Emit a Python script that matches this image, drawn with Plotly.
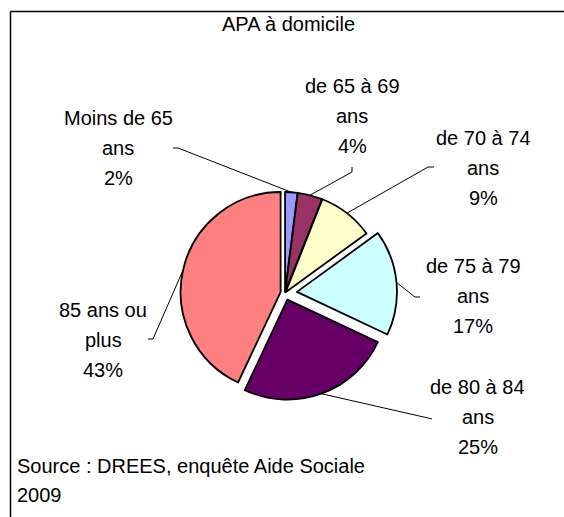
import math
import plotly.graph_objects as go

W, H = 564, 517

# ---- data ----
categories = ["Moins de 65 ans", "de 65 à 69 ans", "de 70 à 74 ans",
              "de 75 à 79 ans", "de 80 à 84 ans", "85 ans ou plus"]
values = [2, 4, 9, 17, 25, 43]
label_lines = [["Moins de 65", "ans"], ["de 65 à 69", "ans"], ["de 70 à 74", "ans"],
               ["de 75 à 79", "ans"], ["de 80 à 84", "ans"], ["85 ans ou", "plus"]]
title_text = "APA à domicile"
source_lines = ["Source : DREES, enquête Aide Sociale", "2009"]

# ---- styling / layout ----
colors = ["#9999FF", "#993366", "#FFFFCC", "#CCFFFF", "#660066", "#FF8080"]
pulls = [0.01, 0.01, 0.01, 0.12, 0.07, 0.045]
CX, CY, R = 285, 293, 100          # pie centre / radius in pixels
FONT = "Liberation Sans, Arial, sans-serif"
FS = 20
LINE_H = 30
label_pos = [(118, 118), (352, 86), (483, 138), (473, 266), (478, 387), (103, 310)]
leader_start = [(173, 148), (352, 167), (434, 167), (420, 297), (432, 419), (148, 339)]
leader_elbow = [(178, 148), (352, 172), (428, 167), (415, 297), (428, 418), (153, 339)]


def px(x):
    return x / W


def py(y):
    return 1 - y / H


maxpull = max(pulls)
half = R * (1 + maxpull)

fig = go.Figure(go.Pie(
    labels=categories, values=values, sort=False, direction="clockwise", rotation=0,
    marker=dict(colors=colors, line=dict(color="black", width=1.8)),
    pull=pulls, textinfo="none", hoverinfo="label+percent", showlegend=False,
    domain=dict(x=[px(CX - half), px(CX + half)], y=[py(CY + half), py(CY - half)]),
))

annotations = []
shapes = []

total = sum(values)
cum = 0
for i, v in enumerate(values):
    pct = round(100 * v / total)
    lines = label_lines[i] + [f"{pct}%"]
    lx, ly = label_pos[i]
    for k, t in enumerate(lines):
        annotations.append(dict(x=px(lx), y=py(ly + k * LINE_H), xref="paper", yref="paper",
                                text=t, showarrow=False, xanchor="center", yanchor="middle",
                                font=dict(family=FONT, size=FS, color="black")))
    mid = (cum + v / 2) / total * 2 * math.pi
    rr = R * (1 + pulls[i])
    ex, ey = CX + rr * math.sin(mid), CY - rr * math.cos(mid)
    sx, sy = leader_start[i]
    bx, by = leader_elbow[i]
    shapes.append(dict(type="path", xref="paper", yref="paper",
                       path=f"M {px(sx)} {py(sy)} L {px(bx)} {py(by)} L {px(ex)} {py(ey)}",
                       line=dict(color="black", width=1)))
    cum += v

annotations.append(dict(x=px(288), y=py(24), xref="paper", yref="paper", text=title_text,
                        showarrow=False, xanchor="center", yanchor="middle",
                        font=dict(family=FONT, size=FS, color="black")))
for k, t in enumerate(source_lines):
    annotations.append(dict(x=px(15), y=py(466 + k * 29), xref="paper", yref="paper", text=t,
                            showarrow=False, xanchor="left", yanchor="middle",
                            font=dict(family=FONT, size=FS, color="black")))

# frame (left and top edges of the chart area)
shapes.append(dict(type="line", xref="paper", yref="paper", x0=px(10.5), y0=py(11.5), x1=px(10.5), y1=0,
                   line=dict(color="black", width=1.5)))
shapes.append(dict(type="line", xref="paper", yref="paper", x0=px(10.5), y0=py(11.5), x1=1, y1=py(11.5),
                   line=dict(color="black", width=1.5)))

fig.update_layout(width=W, height=H, margin=dict(l=0, r=0, t=0, b=0),
                  paper_bgcolor="white", plot_bgcolor="white",
                  annotations=annotations, shapes=shapes)

fig.write_html("out.html", config={"displayModeBar": False},
               post_script="document.body.style.margin='0';document.body.style.overflow='hidden';")
